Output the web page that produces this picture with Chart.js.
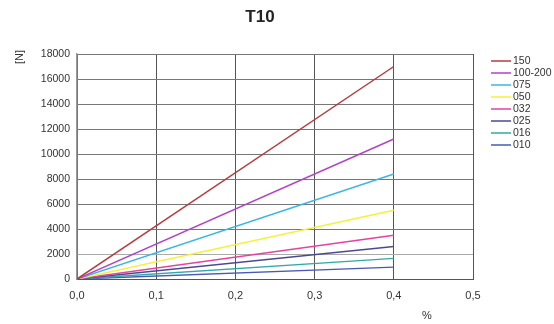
<!DOCTYPE html>
<html>
<head>
<meta charset="utf-8">
<script src="https://cdn.jsdelivr.net/npm/chart.js@4/dist/chart.umd.min.js"></script>
<style>
html,body{margin:0;padding:0;background:#fff;}
#wrap{width:554px;height:324px;position:relative;}
</style>
</head>
<body>
<div id="wrap"><canvas id="c" width="554" height="324"></canvas></div>
<script>
// ---- data ----
const chartTitle = "T10";
const yAxisLabel = "[N]";
const xAxisLabel = "%";
const strainPoints = [0, 0.4];
const seriesNames = ["150", "100-200", "075", "050", "032", "025", "016", "010"];
const s150 = [0, 17000];
const s100_200 = [0, 11200];
const s075 = [0, 8400];
const s050 = [0, 5500];
const s032 = [0, 3500];
const s025 = [0, 2600];
const s016 = [0, 1650];
const s010 = [0, 950];
const seriesValues = [s150, s100_200, s075, s050, s032, s025, s016, s010];
const seriesColors = ["#b83a3c", "#b243c6", "#3cb6e4", "#f2f23c", "#e6439c", "#4a4a92", "#33a9aa", "#4a5ab4"];
const xTicks = [0, 0.1, 0.2, 0.3, 0.4, 0.5];
const yTicks = [0, 2000, 4000, 6000, 8000, 10000, 12000, 14000, 16000, 18000];

const FONT = "'Liberation Sans', Arial, sans-serif";

const datasets = seriesNames.map((name, i) => ({
  label: name,
  data: strainPoints.map((x, j) => ({x: x, y: seriesValues[i][j]})),
  borderColor: seriesColors[i],
  backgroundColor: seriesColors[i],
  borderWidth: 1.5,
  pointRadius: 0,
  showLine: true,
  fill: false,
  tension: 0
}));

const decor = {
  id: 'decor',
  afterDraw(chart) {
    const ctx = chart.ctx;
    ctx.save();
    // title
    ctx.fillStyle = '#222';
    ctx.font = "bold 17px " + FONT;
    ctx.textAlign = 'center';
    ctx.textBaseline = 'middle';
    ctx.fillText(chartTitle, 260, 17);
    // y label
    ctx.font = "11px " + FONT;
    ctx.fillStyle = '#333';
    ctx.save();
    ctx.translate(20, 57);
    ctx.rotate(-Math.PI / 2);
    ctx.fillText(yAxisLabel, 0, 0);
    ctx.restore();
    // x label
    ctx.fillText(xAxisLabel, 427, 316);
    // legend
    ctx.font = "10.5px " + FONT;
    ctx.textAlign = 'left';
    chart.data.datasets.forEach((ds, i) => {
      const y = 61 + i * 12;
      ctx.strokeStyle = ds.borderColor;
      ctx.lineWidth = 1.5;
      ctx.beginPath();
      ctx.moveTo(491, y);
      ctx.lineTo(511, y);
      ctx.stroke();
      ctx.fillStyle = '#333';
      ctx.fillText(ds.label, 513, y + 0.5);
    });
    ctx.restore();
  }
};

new Chart(document.getElementById('c'), {
  type: 'scatter',
  data: { datasets },
  options: {
    responsive: false,
    animation: false,
    events: [],
    layout: { padding: { left: 0, right: 81, top: 54, bottom: 0 } },
    plugins: { legend: { display: false }, title: { display: false }, tooltip: { enabled: false } },
    scales: {
      x: {
        type: 'linear',
        min: 0, max: 0.5,
        afterBuildTicks: (s) => { s.ticks = xTicks.map(v => ({value: v})); },
        afterFit: (s) => { s.height = 45; },
        ticks: {
          padding: 10,
          color: '#333',
          font: { family: FONT, size: 11 },
          callback: (v) => v.toFixed(1).replace('.', ',')
        },
        grid: { color: '#555', lineWidth: 1, drawTicks: false },
        border: { display: true, color: '#555' }
      },
      y: {
        type: 'linear',
        min: 0, max: 18000,
        afterBuildTicks: (s) => { s.ticks = yTicks.map(v => ({value: v})); },
        afterFit: (s) => { s.width = 77; },
        ticks: {
          padding: 7,
          color: '#333',
          font: { family: FONT, size: 10.5 },
          callback: (v) => String(v)
        },
        grid: { color: (c) => c.tick && c.tick.value === 2000 ? '#aaa' : '#777', lineWidth: 1, drawTicks: false },
        border: { display: true, color: '#999', width: 1.5 }
      }
    }
  },
  plugins: [decor]
});
</script>
</body>
</html>
